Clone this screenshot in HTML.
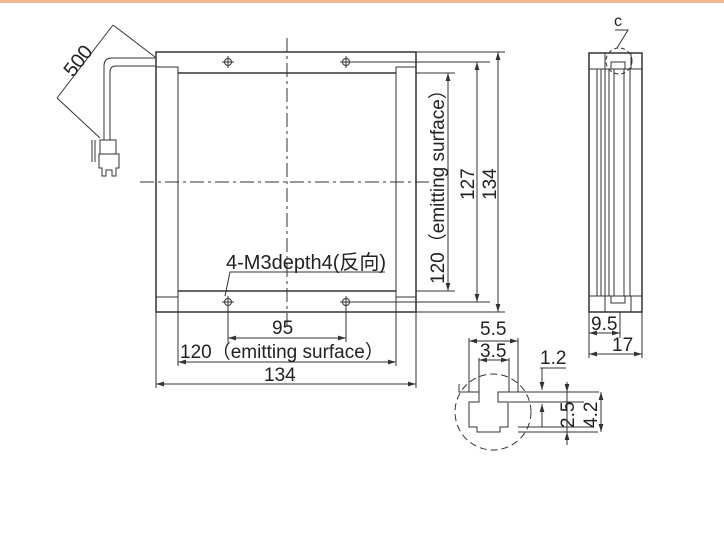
<!DOCTYPE html>
<html><head><style>body{margin:0;background:#fff}svg{display:block}text{font-family:"Liberation Sans","Noto Sans CJK SC",sans-serif;fill:#222}</style></head>
<body>
<svg width="724" height="535" viewBox="0 0 724 535" xmlns="http://www.w3.org/2000/svg">
<defs><marker id="a" viewBox="0 0 10 6" refX="10" refY="3" markerWidth="8" markerHeight="5" orient="auto-start-reverse"><path d="M0,0L10,3L0,6z" fill="#333"/></marker></defs>
<rect x="0" y="0" width="724" height="3" fill="#f0b890"/>
<g stroke="#333" stroke-width="1" fill="none">
<rect x="156" y="52" width="260" height="260" stroke-width="1.5"/>
<rect x="156" y="67" width="22" height="230"/>
<rect x="396" y="67" width="20" height="230"/>
<line x1="178" y1="73" x2="396" y2="73" stroke-width="1.5"/>
<line x1="178" y1="291" x2="396" y2="291" stroke-width="1.5"/>
<line x1="287" y1="38" x2="287" y2="330" stroke-dasharray="14,4,3,4"/>
<line x1="140" y1="182" x2="430" y2="182" stroke-dasharray="14,4,3,4"/>
<g><circle cx="228" cy="62" r="3.5"/><circle cx="346" cy="62" r="3.5"/><circle cx="228" cy="302" r="3.5"/><circle cx="346" cy="302" r="3.5"/>
<path d="M228,56v12M222,62h12M346,56v12M340,62h12M228,296v12M222,302h12M346,296v12M340,302h12"/></g>
<path d="M156,58H112q-8,0-8,8V140M156,66H116q-6,0-6,6V140"/>
<path d="M100,140h16v14h-16zM99,154h20v14h-3v8h-4v-6h-6v6h-4v-8h-3z"/>
<path d="M92,140v22M95,140v22"/>
<path d="M57,98L113,25M113,25L155,57M57,98L100,138"/>
<path d="M416,52H505M416,62H490M416,73H455M416,291H455M416,302H490M416,312H505"/>
<line x1="448" y1="73" x2="448" y2="291" marker-start="url(#a)" marker-end="url(#a)"/>
<line x1="477" y1="62" x2="477" y2="302" marker-start="url(#a)" marker-end="url(#a)"/>
<line x1="498" y1="52" x2="498" y2="312" marker-start="url(#a)" marker-end="url(#a)"/>
<path d="M228,306V342M346,306V342M178,297V366M396,297V366M156,312V388M416,312V388"/>
<line x1="228" y1="338" x2="346" y2="338" marker-start="url(#a)" marker-end="url(#a)"/>
<line x1="178" y1="362" x2="396" y2="362" marker-start="url(#a)" marker-end="url(#a)"/>
<line x1="156" y1="384" x2="416" y2="384" marker-start="url(#a)" marker-end="url(#a)"/>
<path d="M225,296L230,272H385"/>
<path d="M352,62H430M352,302H430"/>
<rect x="589" y="53" width="53" height="259" stroke-width="1.5"/>
<path d="M589,69H642M589,296H642M597,69V296M601,69V296M605,69V296M609,69V296M614,69V296M624,69V296M630,69V296"/>
<path d="M605,53v16h6v-7h14v7h6v-16M605,312v-16h6v7h14v-7h6v16"/>
<circle cx="619" cy="61" r="13" stroke-dasharray="4,3"/>
<path d="M617,48L628,30H615"/>
<path d="M589,312V338M620,312V338M642,312V358M589,338V358"/>
<line x1="589" y1="333" x2="620" y2="333" marker-start="url(#a)" marker-end="url(#a)"/>
<line x1="589" y1="354" x2="642" y2="354" marker-start="url(#a)" marker-end="url(#a)"/>
<path d="M469,338V392h-10v-8M518,338V392"/>
<path d="M479,358V392M509,358V392"/>
<path d="M459,392h20v10h-10v25h8v5h23v-5h8v-25h-10v-10h35"/>
<path d="M509,402h75M509,392h90M518,427h75M518,432h80"/>
<circle cx="493" cy="412" r="38" stroke-dasharray="7,4"/>
<line x1="469" y1="341" x2="518" y2="341" marker-start="url(#a)" marker-end="url(#a)"/>
<line x1="479" y1="360" x2="509" y2="360" marker-start="url(#a)" marker-end="url(#a)"/>
<path d="M540,368H566M542,368V390" marker-end="url(#a)"/>
<line x1="542" y1="427" x2="542" y2="404" marker-end="url(#a)"/>
<line x1="567" y1="382" x2="567" y2="392" marker-end="url(#a)"/>
<line x1="567" y1="445" x2="567" y2="432" marker-end="url(#a)"/>
<line x1="567" y1="392" x2="567" y2="432"/>
<line x1="601" y1="392" x2="601" y2="432" marker-start="url(#a)" marker-end="url(#a)"/>
</g>
<g font-size="19">
<text transform="translate(73 78) rotate(-52)" font-size="20">500</text>
<text x="226" y="269" font-size="20">4-M3depth4(反向)</text>
<text x="272" y="334">95</text>
<text x="180" y="358">120（emitting surface）</text>
<text x="264" y="381">134</text>
<text transform="translate(444 284) rotate(-90)">120（emitting surface）</text>
<text transform="translate(474 200) rotate(-90)">127</text>
<text transform="translate(496 200) rotate(-90)">134</text>
<text x="614" y="26" font-size="16">c</text>
<text x="591" y="330">9.5</text>
<text x="612" y="351">17</text>
<text x="480" y="335">5.5</text>
<text x="480" y="357">3.5</text>
<text x="540" y="364">1.2</text>
<text transform="translate(574 428) rotate(-90)">2.5</text>
<text transform="translate(597 428) rotate(-90)">4.2</text>
</g>
</svg>
</body></html>
